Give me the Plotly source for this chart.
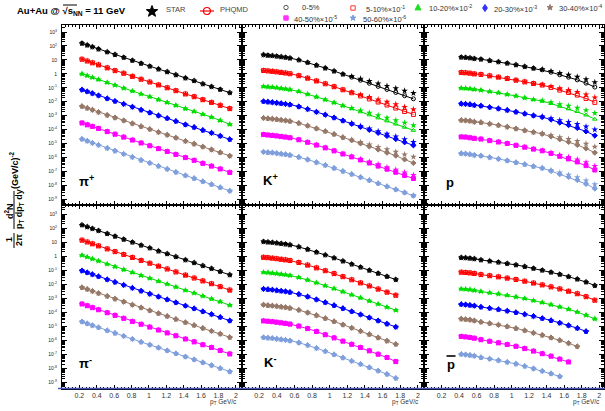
import math
import plotly.graph_objects as go

# ---------------- data ----------------
CENT_LABELS = ["0-5%", "5-10%×10<sup>-1</sup>", "10-20%×10<sup>-2</sup>", "20-30%×10<sup>-3</sup>",
               "30-40%×10<sup>-4</sup>", "40-50%×10<sup>-5</sup>", "50-60%×10<sup>-6</sup>"]
SCALES = [1, 1e-1, 1e-2, 1e-3, 1e-4, 1e-5, 1e-6]

pi_pt = [0.23, 0.29, 0.35, 0.42, 0.52, 0.61, 0.71, 0.81, 0.91, 1.01, 1.11, 1.21, 1.31, 1.42, 1.52, 1.62, 1.72, 1.82, 1.93]
k_pt = [0.25, 0.3, 0.35, 0.4, 0.45, 0.5, 0.55, 0.65, 0.75, 0.85, 0.95, 1.05, 1.15, 1.25, 1.35, 1.45, 1.55, 1.65, 1.75, 1.85, 1.95]
p_pt = [0.425, 0.475, 0.525, 0.575, 0.65, 0.75, 0.85, 0.95, 1.05, 1.15, 1.25, 1.35, 1.45, 1.55, 1.65, 1.75, 1.85, 1.95]

pip_star = [
    [155, 115, 85, 60, 37, 24, 15, 9.1, 5.6, 3.5, 2.2, 1.4, 0.85, 0.50, 0.32, 0.19, 0.12, 0.076, 0.044],
    [112, 83, 62, 44, 27, 17, 11, 6.6, 4.1, 2.6, 1.6, 1.0, 0.62, 0.36, 0.23, 0.14, 0.089, 0.055, 0.032],
    [100, 74, 55, 39, 24, 15.5, 9.5, 5.9, 3.6, 2.3, 1.4, 0.89, 0.55, 0.32, 0.20, 0.126, 0.079, 0.045, 0.024],
    [72, 54, 40, 28, 17, 11, 6.9, 4.3, 2.6, 1.66, 1.02, 0.65, 0.40, 0.23, 0.148, 0.091, 0.058, 0.035, 0.020],
    [47, 35, 26, 18, 11, 7.2, 4.5, 2.75, 1.7, 1.07, 0.66, 0.42, 0.26, 0.15, 0.095, 0.059, 0.037, 0.023, 0.013],
    [30, 22, 17, 12, 7.2, 4.7, 2.9, 1.78, 1.1, 0.69, 0.43, 0.27, 0.166, 0.098, 0.062, 0.038, 0.024, 0.015, 0.0085],
    [21, 15.5, 11, 7.8, 4.7, 3.0, 1.78, 1.07, 0.65, 0.40, 0.24, 0.148, 0.089, 0.051, 0.032, 0.019, 0.0117, 0.0071, 0.004],
]
pip_model = pip_star

pim_star = [
    [166, 123, 91, 65, 40, 26, 15.8, 9.8, 6.0, 3.8, 2.3, 1.48, 0.91, 0.54, 0.34, 0.21, 0.132, 0.081, 0.047],
    [138, 102, 76, 54, 33, 21, 13.2, 8.1, 5.0, 3.16, 1.95, 1.23, 0.76, 0.45, 0.28, 0.174, 0.11, 0.068, 0.039],
    [117, 87, 65, 46, 28, 18, 11.2, 6.9, 4.3, 2.7, 1.66, 1.05, 0.65, 0.38, 0.24, 0.148, 0.093, 0.058, 0.033],
    [93, 69, 51, 36, 22, 14.5, 8.9, 5.5, 3.4, 2.1, 1.32, 0.83, 0.51, 0.30, 0.19, 0.117, 0.074, 0.046, 0.026],
    [60, 45, 33, 23, 14.5, 9.3, 5.8, 3.5, 2.2, 1.38, 0.85, 0.54, 0.33, 0.195, 0.123, 0.076, 0.048, 0.030, 0.017],
    [40, 30, 22, 15.5, 9.5, 6.2, 3.8, 2.3, 1.45, 0.91, 0.56, 0.35, 0.22, 0.129, 0.081, 0.050, 0.032, 0.0195, 0.0112],
    [22, 16.2, 12, 8.5, 5.2, 3.4, 2.1, 1.29, 0.79, 0.50, 0.31, 0.195, 0.12, 0.071, 0.045, 0.0275, 0.0174, 0.0107, 0.0062],
]
pim_model = pim_star

kp_model = [
    [23, 21.4, 20, 18.2, 16.6, 15.1, 13.5, 9.8, 6.5, 4.1, 2.6, 1.58, 0.95, 0.58, 0.35, 0.21, 0.126, 0.076, 0.046, 0.027, 0.0162],
    [17.4, 16.2, 15.1, 13.8, 12.6, 11.5, 10.2, 7.4, 4.9, 3.1, 1.95, 1.2, 0.72, 0.44, 0.26, 0.158, 0.095, 0.058, 0.035, 0.020, 0.0123],
    [12.6, 11.7, 11.0, 10.0, 9.1, 8.3, 7.4, 5.4, 3.55, 2.24, 1.41, 0.87, 0.52, 0.32, 0.19, 0.115, 0.069, 0.042, 0.025, 0.0148, 0.0089],
    [10.5, 9.8, 9.1, 8.3, 7.6, 6.9, 6.2, 4.5, 2.95, 1.86, 1.17, 0.72, 0.44, 0.26, 0.158, 0.095, 0.058, 0.035, 0.021, 0.0123, 0.0074],
    [6.8, 6.3, 5.9, 5.4, 4.9, 4.5, 4.0, 2.9, 1.9, 1.2, 0.76, 0.47, 0.28, 0.17, 0.102, 0.062, 0.037, 0.022, 0.0135, 0.0072, 0.004],
    [4.4, 4.1, 3.8, 3.5, 3.16, 2.9, 2.6, 1.86, 1.23, 0.78, 0.49, 0.30, 0.18, 0.11, 0.066, 0.040, 0.024, 0.0145, 0.0087, 0.0051, 0.0031],
    [2.5, 2.35, 2.2, 2.0, 1.82, 1.66, 1.48, 1.07, 0.71, 0.45, 0.28, 0.174, 0.105, 0.063, 0.038, 0.023, 0.0138, 0.0083, 0.005, 0.003, 0.0018],
]
kp_star = [
    [23, 21.4, 20, 18.2, 16.6, 15.1, 13.5, 9.8, 6.5, 4.1, 2.6, 1.58, 0.95, 0.65, 0.44, 0.30, 0.20, 0.135, 0.091, 0.060, 0.041],
    [17.4, 16.2, 15.1, 13.8, 12.6, 11.5, 10.2, 7.4, 4.9, 3.1, 1.95, 1.2, 0.72, 0.48, 0.32, 0.216, 0.145, 0.097, 0.065, 0.042, 0.028],
    [12.6, 11.7, 11.0, 10.0, 9.1, 8.3, 7.4, 5.4, 3.55, 2.24, 1.41, 0.87, 0.52, 0.35, 0.234, 0.157, 0.105, 0.070, 0.047, 0.031, 0.020],
    [10.5, 9.8, 9.1, 8.3, 7.6, 6.9, 6.2, 4.5, 2.95, 1.86, 1.17, 0.72, 0.44, 0.28, 0.182, 0.117, 0.076, 0.049, 0.032, 0.020, 0.0129],
    [6.8, 6.3, 5.9, 5.4, 4.9, 4.5, 4.0, 2.9, 1.9, 1.2, 0.76, 0.47, 0.28, 0.188, 0.126, 0.084, 0.056, 0.038, 0.025, 0.0164, 0.011],
    [4.4, 4.1, 3.8, 3.5, 3.16, 2.9, 2.6, 1.86, 1.23, 0.78, 0.49, 0.30, 0.18, 0.117, 0.076, 0.049, 0.032, 0.020, 0.0132, 0.0083, 0.0054],
    [2.5, 2.35, 2.2, 2.0, 1.82, 1.66, 1.48, 1.07, 0.71, 0.45, 0.28, 0.174, 0.105, 0.064, 0.039, 0.024, 0.0142, 0.0087, 0.0053, 0.0032, 0.0019],
]

km_star = [
    [10.8, 10.1, 9.4, 8.6, 7.9, 7.2, 6.4, 4.6, 3.05, 1.93, 1.22, 0.75, 0.45, 0.27, 0.164, 0.099, 0.060, 0.036, 0.0216],
    [8.3, 7.8, 7.2, 6.6, 6.0, 5.5, 4.9, 3.55, 2.34, 1.48, 0.93, 0.58, 0.35, 0.21, 0.126, 0.076, 0.046, 0.0275, 0.0166],
    [7.2, 6.8, 6.3, 5.75, 5.25, 4.8, 4.3, 3.1, 2.04, 1.29, 0.81, 0.50, 0.30, 0.18, 0.11, 0.066, 0.040, 0.024, 0.0145],
    [4.7, 4.4, 4.1, 3.7, 3.4, 3.1, 2.75, 2.0, 1.32, 0.83, 0.52, 0.32, 0.195, 0.117, 0.071, 0.043, 0.026, 0.0155, 0.0093],
    [3.5, 3.2, 3.0, 2.75, 2.5, 2.3, 2.04, 1.48, 0.98, 0.62, 0.38, 0.23, 0.135, 0.079, 0.047, 0.0275, 0.0162, 0.0095, 0.0055],
    [2.5, 2.35, 2.2, 2.0, 1.82, 1.66, 1.48, 1.07, 0.71, 0.44, 0.26, 0.155, 0.091, 0.054, 0.032, 0.0186, 0.0107, 0.0062, 0.0032],
    [1.66, 1.55, 1.45, 1.32, 1.2, 1.1, 0.98, 0.71, 0.47, 0.29, 0.174, 0.102, 0.060, 0.035, 0.021, 0.0123, 0.0071, 0.0041, 0.0021],
]
km_model = km_star

p_model = [
    [15.5, 14.8, 13.8, 12.3, 11.2, 8.9, 7.2, 5.75, 4.4, 3.3, 2.5, 1.95, 1.32, 0.85, 0.575, 0.37, 0.214, 0.112],
    [12.4, 11.9, 11.1, 9.9, 9.0, 7.2, 5.8, 4.6, 3.5, 2.66, 2.02, 1.57, 1.06, 0.68, 0.46, 0.30, 0.172, 0.090],
    [9.5, 9.1, 8.5, 7.6, 6.8, 5.4, 4.4, 3.4, 2.6, 1.9, 1.45, 1.1, 0.74, 0.47, 0.31, 0.20, 0.112, 0.056],
    [7.2, 6.9, 6.5, 5.6, 5.1, 4.0, 3.2, 2.5, 1.86, 1.38, 1.02, 0.79, 0.52, 0.32, 0.21, 0.13, 0.074, 0.037],
    [4.7, 4.5, 4.2, 3.6, 3.3, 2.6, 2.04, 1.58, 1.17, 0.87, 0.65, 0.49, 0.32, 0.20, 0.129, 0.079, 0.044, 0.022],
    [3.0, 2.9, 2.6, 2.34, 2.1, 1.62, 1.29, 1.0, 0.74, 0.55, 0.40, 0.30, 0.195, 0.12, 0.078, 0.048, 0.026, 0.0126],
    [1.95, 1.86, 1.7, 1.48, 1.32, 1.02, 0.79, 0.60, 0.44, 0.32, 0.23, 0.17, 0.107, 0.063, 0.040, 0.024, 0.0126, 0.0058],
]
p_star = [
    [15.5, 14.8, 13.8, 12.3, 11.2, 8.9, 7.2, 5.75, 4.4, 3.3, 2.5, 2.1, 1.55, 1.12, 0.85, 0.62, 0.41, 0.25],
    [12.4, 11.9, 11.1, 9.9, 9.0, 7.2, 5.8, 4.6, 3.5, 2.66, 2.02, 1.68, 1.24, 0.90, 0.68, 0.50, 0.33, 0.20],
    [9.5, 9.1, 8.5, 7.6, 6.8, 5.4, 4.4, 3.4, 2.6, 1.9, 1.45, 1.2, 0.91, 0.66, 0.50, 0.37, 0.245, 0.15],
    [7.2, 6.9, 6.5, 5.6, 5.1, 4.0, 3.2, 2.5, 1.86, 1.38, 1.02, 0.87, 0.65, 0.46, 0.35, 0.245, 0.162, 0.10],
    [4.7, 4.5, 4.2, 3.6, 3.3, 2.6, 2.04, 1.58, 1.17, 0.87, 0.65, 0.54, 0.39, 0.28, 0.21, 0.148, 0.095, 0.059],
    [3.0, 2.9, 2.6, 2.34, 2.1, 1.62, 1.29, 1.0, 0.74, 0.55, 0.40, 0.32, 0.22, 0.15, 0.107, 0.072, 0.044, 0.024],
    [1.95, 1.86, 1.7, 1.48, 1.32, 1.02, 0.79, 0.60, 0.44, 0.32, 0.23, 0.18, 0.123, 0.081, 0.056, 0.038, 0.0224, 0.0117],
]

pbar_star = [
    [0.79, 0.76, 0.71, 0.65, 0.54, 0.45, 0.37, 0.30, 0.24, 0.182, 0.135, 0.10, 0.072, 0.051, 0.035, 0.0234, 0.0145, 0.0081],
    [0.72, 0.69, 0.65, 0.59, 0.49, 0.41, 0.34, 0.275, 0.22, 0.166, 0.123, 0.091, 0.066, 0.047, 0.032, 0.0214, 0.0132, 0.0074],
    [0.47, 0.45, 0.42, 0.37, 0.31, 0.25, 0.21, 0.166, 0.129, 0.098, 0.071, 0.051, 0.036, 0.025, 0.017, 0.0107, 0.0065, 0.0035],
    [0.38, 0.36, 0.33, 0.30, 0.245, 0.20, 0.162, 0.129, 0.10, 0.074, 0.054, 0.038, 0.027, 0.018, 0.012, 0.0076, 0.0045],
    [0.35, 0.32, 0.30, 0.26, 0.21, 0.166, 0.132, 0.10, 0.074, 0.052, 0.035, 0.0245, 0.0162, 0.0105, 0.0065, 0.0038],
    [0.195, 0.182, 0.166, 0.148, 0.115, 0.089, 0.069, 0.052, 0.039, 0.027, 0.0178, 0.0117, 0.0078, 0.0048, 0.003],
    [0.107, 0.10, 0.091, 0.081, 0.063, 0.050, 0.039, 0.0295, 0.022, 0.0151, 0.0102, 0.0068, 0.0045, 0.0028],
]
pbar_model = pbar_star

X_TICKS = [0.2, 0.4, 0.6, 0.8, 1.0, 1.2, 1.4, 1.6, 1.8, 2.0]
X_TICKTEXT = ["0.2", "0.4", "0.6", "0.8", "1", "1.2", "1.4", "1.6", "1.8", "2"]
Y_TICKS = [1e3, 1e2, 1e1, 1, 1e-1, 1e-2, 1e-3, 1e-4, 1e-5, 1e-6, 1e-7, 1e-8, 1e-9]
Y_TICKTEXT = ["10<sup>3</sup>", "10<sup>2</sup>", "10", "1", "10<sup>-1</sup>", "10<sup>-2</sup>",
              "10<sup>-3</sup>", "10<sup>-4</sup>", "10<sup>-5</sup>", "10<sup>-6</sup>",
              "10<sup>-7</sup>", "10<sup>-8</sup>", "10<sup>-9</sup>"]

# ---------------- styling ----------------
FONT = "Liberation Sans, Arial, sans-serif"
COLORS = ["#000000", "#ff0000", "#00dd00", "#0000ff", "#967868", "#ff00ff", "#7f9fdc"]
MODEL_SYMBOLS = ["circle-open", "square-open", "triangle-up-open", "diamond", "diamond", "square", "diamond"]
W, H = 605, 411
COLS = [(62, 241.5), (241.5, 424), (424, 604)]
ROWS = [(24.5, 205), (205, 388.5)]
XRANGES = [[0, 2.065], [0, 2.07], [0, 2.055]]
YRANGES = [[-9.41, 3.54], [-9.41, 3.64]]
MINOR_Y = [m * 10.0 ** k for k in range(-10, 4) for m in range(2, 10)]
LABEL_POS = [(86, 181), (270, 180), (450, 182), (85, 363), (270, 362), (451, 364)]

panels = [
    (pi_pt, pip_star, pip_model, "π<sup>+</sup>"),
    (k_pt, kp_star, kp_model, "K<sup>+</sup>"),
    (p_pt, p_star, p_model, "p"),
    (pi_pt, pim_star, pim_model, "π<sup>-</sup>"),
    (k_pt, km_star, km_model, "K<sup>-</sup>"),
    (p_pt, pbar_star, pbar_model, "p"),
]

fig = go.Figure()
layout = {}
annotations = []
shapes = []


def fx(p):
    return p / W


def fy(p):
    return 1 - p / H


def note(text, px, py, size, color="black", family=FONT, xanchor="center", angle=0):
    annotations.append(dict(text=text, x=fx(px), y=fy(py), xref="paper", yref="paper",
                            xanchor=xanchor, yanchor="middle", textangle=angle, showarrow=False,
                            font=dict(size=size, family=family, color=color)))


for i, (pt, star, model, lab) in enumerate(panels):
    r, c = divmod(i, 3)
    n = "" if i == 0 else str(i + 1)
    for j in range(7):
        yv = [v * SCALES[j] for v in model[j]]
        fig.add_trace(go.Scatter(
            x=pt[:len(yv)], y=yv, mode="lines+markers", xaxis="x" + n, yaxis="y" + n,
            line=dict(color=COLORS[j], width=1),
            marker=dict(symbol=MODEL_SYMBOLS[j], size=4, color=COLORS[j], line=dict(color=COLORS[j], width=1)),
            showlegend=False, hoverinfo="skip"))
    for j in range(7):
        yv = [v * SCALES[j] for v in star[j]]
        fig.add_trace(go.Scatter(
            x=pt[:len(yv)], y=yv, mode="markers", xaxis="x" + n, yaxis="y" + n,
            marker=dict(symbol="star", size=5, color=COLORS[j], line=dict(width=0)),
            showlegend=False, hoverinfo="skip"))

    layout["xaxis" + n] = dict(
        domain=[fx(COLS[c][0]), fx(COLS[c][1])], range=XRANGES[c], anchor="y" + n,
        showline=True, linecolor="black", linewidth=1, mirror="ticks",
        ticks="inside", ticklen=4, tickcolor="black", tickwidth=1,
        tickmode="array", tickvals=X_TICKS, ticktext=X_TICKTEXT,
        showticklabels=(r == 1), tickfont=dict(size=7, family=FONT, color="#333333"),
        minor=dict(dtick=0.04, tick0=0, ticks="inside", ticklen=2, tickcolor="black", showgrid=False),
        showgrid=False, zeroline=False, automargin=False)
    layout["yaxis" + n] = dict(
        domain=[fy(ROWS[r][1]), fy(ROWS[r][0])], type="log", range=YRANGES[r], anchor="x" + n,
        showline=True, linecolor="black", linewidth=1, mirror="ticks",
        ticks="inside", ticklen=5, tickcolor="black", tickwidth=1,
        tickmode="array", tickvals=Y_TICKS, ticktext=Y_TICKTEXT,
        showticklabels=(c == 0), tickfont=dict(size=5, family=FONT, color="#222222"),
        ticklabelstandoff=3,
        minor=dict(tickmode="array", tickvals=MINOR_Y, ticks="inside", ticklen=3, tickcolor="black", showgrid=False),
        showgrid=False, zeroline=False, automargin=False)

    lx, ly = LABEL_POS[i]
    note("<b>%s</b>" % lab, lx, ly, 13)
    if r == 1:
        annotations.append(dict(text="p<sub>T</sub> GeV/c", x=2.035, y=fy(401.5), xref="x" + n, yref="paper",
                                xanchor="right", yanchor="middle", showarrow=False,
                                font=dict(size=6.5, family=FONT, color="#333333")))

# bar over the antiproton label
shapes.append(dict(type="line", xref="paper", yref="paper", x0=fx(446.5), x1=fx(455.5), y0=fy(356), y1=fy(356),
                   line=dict(color="black", width=1.6)))
# coloured bottom axis line
shapes.append(dict(type="line", xref="paper", yref="paper", x0=fx(58), x1=1, y0=fy(388.5), y1=fy(388.5),
                   line=dict(color="#4455bb", width=1.5)))

# ---------------- y title (fraction) ----------------
note("<b>1</b>", 9, 240, 9, angle=-90)
note("<b>d<sup>2</sup>N</b>", 9, 211, 9, angle=-90)
note("<b>2π</b>", 19, 240, 9, angle=-90)
note("<b>p<sub>T</sub> dp<sub>T</sub> dy</b>", 19, 209, 9, angle=-90)
note("<b>(GeV/c)<sup>-2</sup></b>", 14, 170, 9, angle=-90)
for y0, y1 in [(233, 248), (191, 229)]:
    shapes.append(dict(type="line", xref="paper", yref="paper", x0=fx(14), x1=fx(14), y0=fy(y0), y1=fy(y1),
                       line=dict(color="black", width=1)))


# ---------------- legend (drawn by hand) ----------------
def glyph(kind, px, py, r, color, filled=True, lw=1.0):
    base = dict(xref="paper", yref="paper", xsizemode="pixel", ysizemode="pixel",
                xanchor=fx(px), yanchor=fy(py),
                line=dict(color=color, width=lw),
                fillcolor=color if filled else "rgba(0,0,0,0)")
    if kind == "circle":
        base.update(type="circle", x0=-r, x1=r, y0=-r, y1=r)
    elif kind == "square":
        base.update(type="rect", x0=-r, x1=r, y0=-r, y1=r)
    else:
        if kind == "triangle":
            pts = [(0, r * 1.1), (-r, -r * 0.8), (r, -r * 0.8)]
        elif kind == "diamond":
            pts = [(0, r * 1.2), (r * 0.8, 0), (0, -r * 1.2), (-r * 0.8, 0)]
        else:  # star
            pts = []
            for k in range(10):
                rr = r if k % 2 == 0 else r * 0.42
                a = math.pi / 2 + k * math.pi / 5
                pts.append((rr * math.cos(a), rr * math.sin(a)))
        path = "M " + " L ".join("%.2f,%.2f" % p for p in pts) + " Z"
        base.update(type="path", path=path)
    shapes.append(base)


note("<b>Au+Au @ √s<sub>NN</sub> = 11 GeV</b>", 15, 11, 9.5, xanchor="left")
shapes.append(dict(type="line", xref="paper", yref="paper", x0=fx(63), x1=fx(77), y0=fy(5), y1=fy(5),
                   line=dict(color="black", width=1)))
glyph("star", 152, 11.5, 6, "black")
note("STAR", 164, 10, 7.5, color="#444444", xanchor="left")
glyph("circle", 207, 11, 3.5, "#ff0000", filled=False, lw=1.2)
shapes.append(dict(type="line", xref="paper", yref="paper", x0=fx(200), x1=fx(214), y0=fy(11), y1=fy(11),
                   line=dict(color="#ff0000", width=1.2)))
note("PHQMD", 218, 10, 7.5, color="#444444", xanchor="left")

LEG_KIND = [("circle", False), ("square", False), ("triangle", True), ("diamond", True), ("star", True),
            ("square", True), ("star", True)]
LEG_COLORS = ["#555555", "#ff3333", "#22dd22", "#3333ff", "#967868", "#ff33ff", "#7f9fdc"]
LEG_POS = [(286, 7.5, 300), (353, 8, 364), (418, 7.5, 427), (485, 8, 492), (550, 7.5, 557),
           (286, 18, 292), (353, 18, 361)]
for j in range(7):
    gx, gy, tx = LEG_POS[j]
    kind, filled = LEG_KIND[j]
    rad = 2.2 if kind in ("circle", "square") else 3
    glyph(kind, gx, gy, rad, LEG_COLORS[j], filled=filled, lw=1)
    note(CENT_LABELS[j], tx, gy + 0.5, 7.5, color="#333333", xanchor="left")

fig.update_layout(
    width=W, height=H, margin=dict(l=0, r=0, t=0, b=0),
    paper_bgcolor="white", plot_bgcolor="white", showlegend=False,
    annotations=annotations, shapes=shapes, **layout)

fig.write_html("out.html")
